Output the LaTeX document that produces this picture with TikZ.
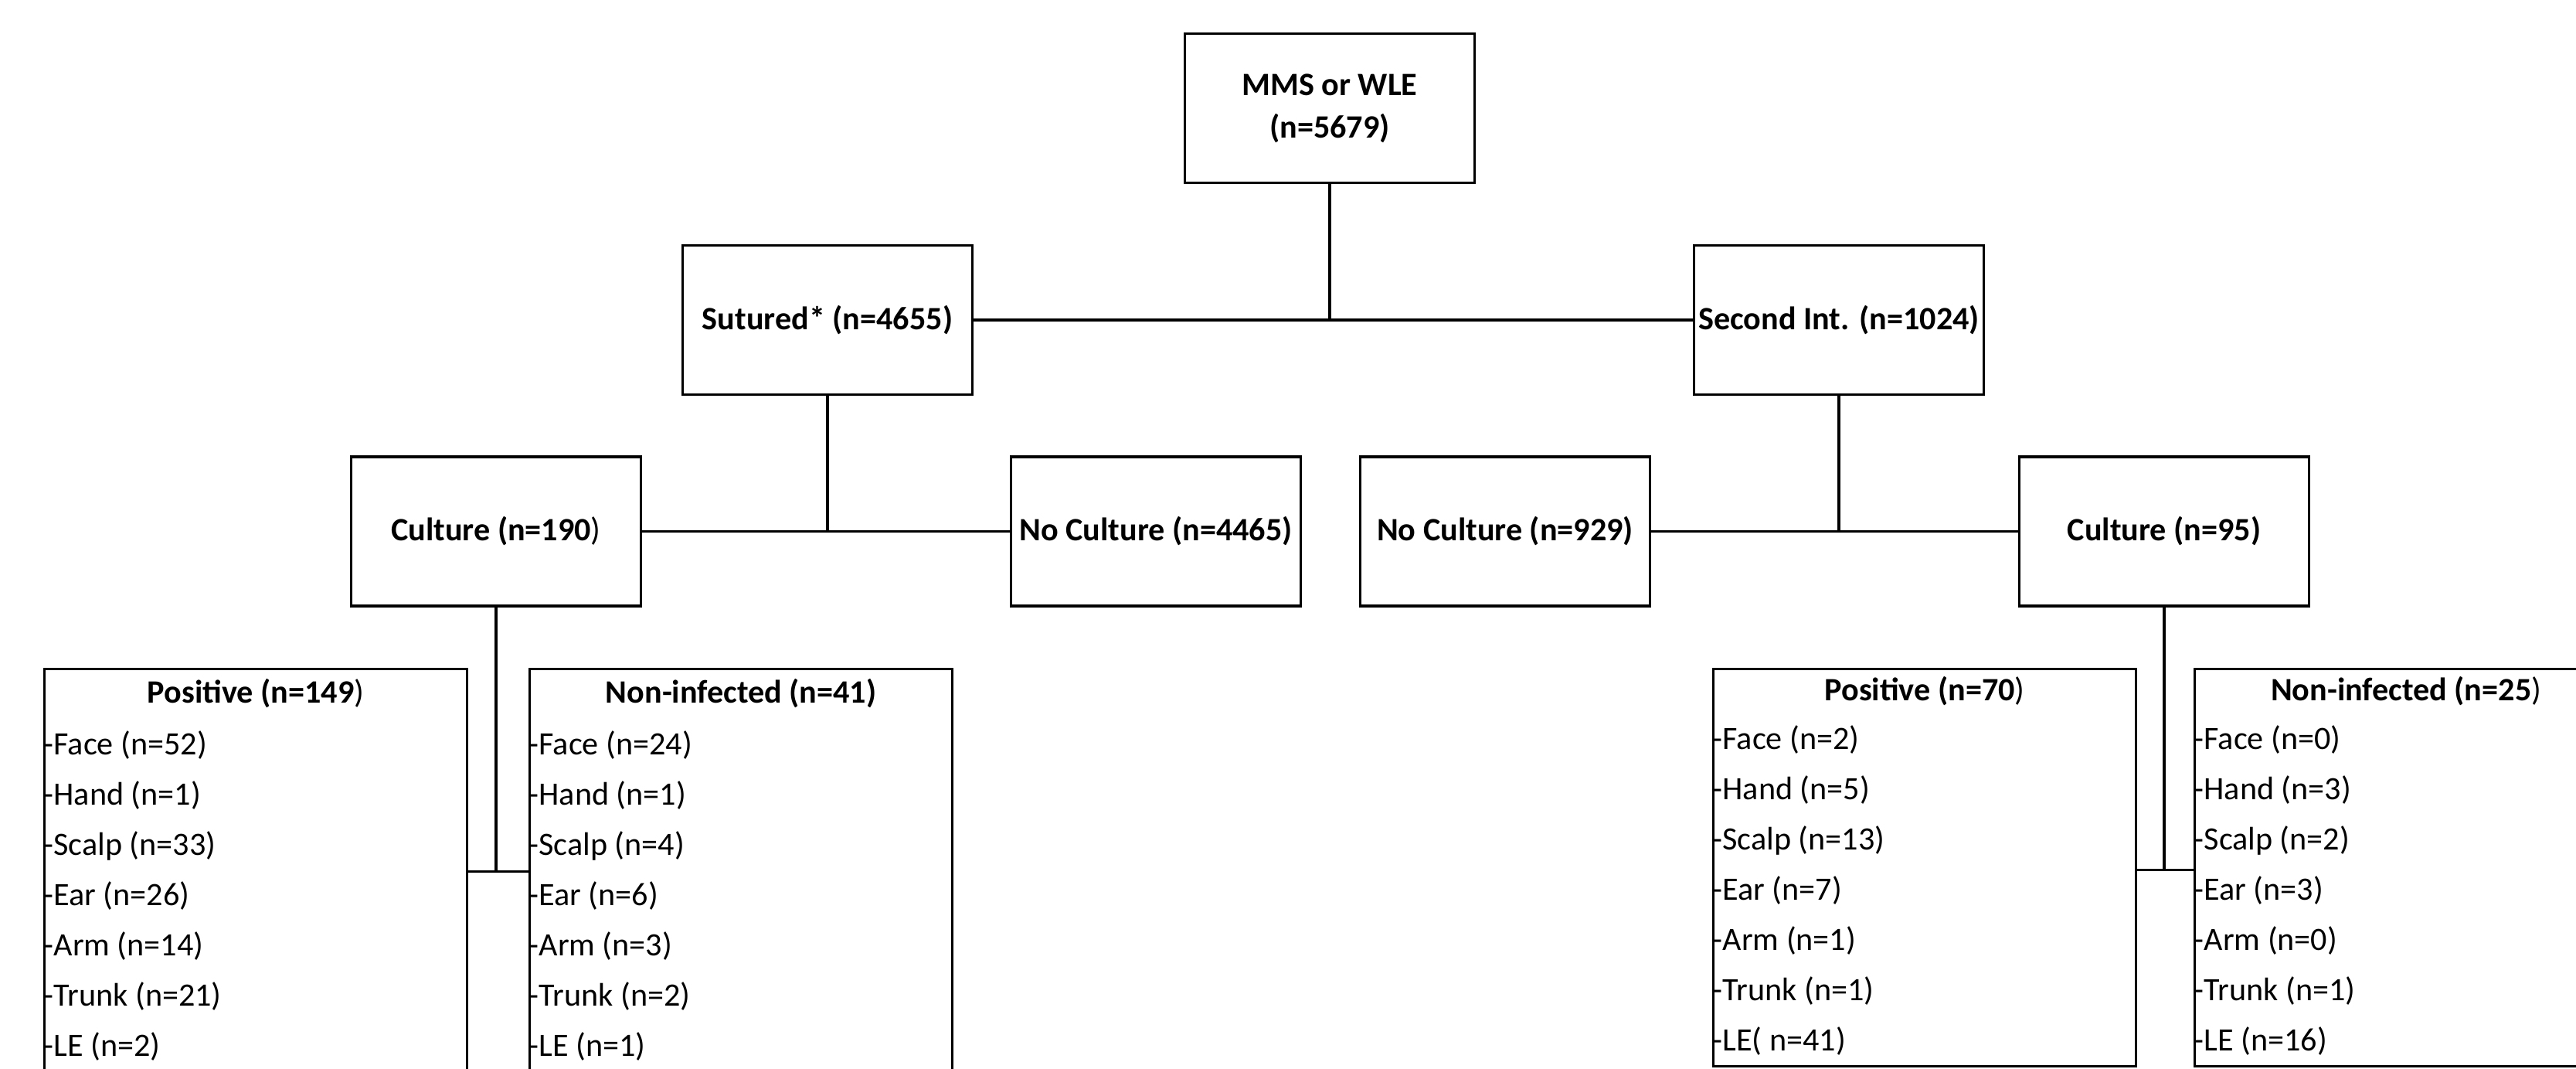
\documentclass[tikz,border=0pt]{standalone}
\usepackage{fontspec}
\setmainfont{Carlito}
\usepackage{tikz}
\usetikzlibrary{positioning,calc}
\newcommand\chartfont{\fontsize{12}{15.6}\selectfont}
\tikzset{
  cellbox/.style={draw, line width=0.9pt, inner sep=0pt, minimum width=3.75cm, minimum height=1.93cm, align=center, font=\chartfont\bfseries},
  listbox/.style={draw, line width=0.9pt, inner sep=0pt, minimum width=5.47cm, minimum height=5.14cm, anchor=north west},
  headtext/.style={inner sep=0pt, font=\chartfont\bfseries},
  entry/.style={inner sep=0pt, anchor=west, font=\chartfont},
  wire/.style={line width=0.9pt}
}

\begin{document}
\begin{tikzpicture}
  \useasboundingbox (0,0) rectangle (33.34,-13.82);
  \clip (0,0) rectangle (33.34,-13.82);
  % upper tree
  \node[cellbox] (mms) at (17.21,-1.40) {MMS or WLE\\(n=5679)};
  \node[cellbox] (sutured) at (10.71,-4.14) {Sutured* (n=4655)};
  \node[cellbox] (second) at (23.80,-4.14) {Second Int. (n=1024)};
  \node[cellbox] (culA) at (6.42,-6.875) {Culture (n=190\textmd{)}};
  \node[cellbox] (nocA) at (14.96,-6.875) {No Culture (n=4465)};
  \node[cellbox] (nocB) at (19.48,-6.875) {No Culture (n=929)};
  \node[cellbox] (culB) at (28.01,-6.875) {Culture (n=95)};
  \draw[wire] (sutured.east) -- (second.west);
  \draw[wire] (mms.south) -- (mms.south |- sutured.east);
  \draw[wire] (culA.east) -- (nocA.west);
  \draw[wire] (sutured.south) -- (sutured.south |- culA.east);
  \draw[wire] (nocB.east) -- (culB.west);
  \draw[wire] (second.south) -- (second.south |- culB.west);
  % site lists
  \node[listbox, minimum height=5.4cm] (posA) at (0.56,-8.64) {};
  \node[listbox, minimum height=5.4cm] (negA) at (6.84,-8.64) {};
  \node[listbox] (posB) at (22.16,-8.64) {};
  \node[listbox] (negB) at (28.39,-8.64) {};
  \node[headtext] (posA-h) at ([yshift=-0.33cm]posA.north) {Positive (n=149\textmd{)}};
  \node[headtext] (negA-h) at ([yshift=-0.33cm]negA.north) {Non-infected (n=41)};
  \node[headtext] (posB-h) at ([yshift=-0.30cm]posB.north) {Positive (n=70\textmd{)}};
  \node[headtext] (negB-h) at ([yshift=-0.30cm]negB.north) {Non-infected (n=25\textmd{)}};
  \foreach \t [count=\i] in {Face (n=52),Hand (n=1),Scalp (n=33),Ear (n=26),Arm (n=14),Trunk (n=21),LE (n=2)}{\node[entry] (posA-\i) at ([yshift={-0.35cm-0.65cm*\i}]posA.north west) {-\t};}
  \foreach \t [count=\i] in {Face (n=24),Hand (n=1),Scalp (n=4),Ear (n=6),Arm (n=3),Trunk (n=2),LE (n=1)}{\node[entry] (negA-\i) at ([yshift={-0.35cm-0.65cm*\i}]negA.north west) {-\t};}
  \foreach \t [count=\i] in {Face (n=2),Hand (n=5),Scalp (n=13),Ear (n=7),Arm (n=1),Trunk (n=1),LE( n=41)}{\node[entry] (posB-\i) at ([yshift={-0.28cm-0.65cm*\i}]posB.north west) {-\t};}
  \foreach \t [count=\i] in {Face (n=0),Hand (n=3),Scalp (n=2),Ear (n=3),Arm (n=0),Trunk (n=1),LE (n=16)}{\node[entry] (negB-\i) at ([yshift={-0.28cm-0.65cm*\i}]negB.north west) {-\t};}
  \coordinate (jA) at ($(culA.south)+(0,-3.42)$);
  \coordinate (jB) at ($(culB.south)+(0,-3.40)$);
  \draw[wire] (culA.south) -- (jA);
  \draw[wire] (posA.east |- jA) -- (negA.west |- jA);
  \draw[wire] (culB.south) -- (jB);
  \draw[wire] (posB.east |- jB) -- (negB.west |- jB);
\end{tikzpicture}
\end{document}
